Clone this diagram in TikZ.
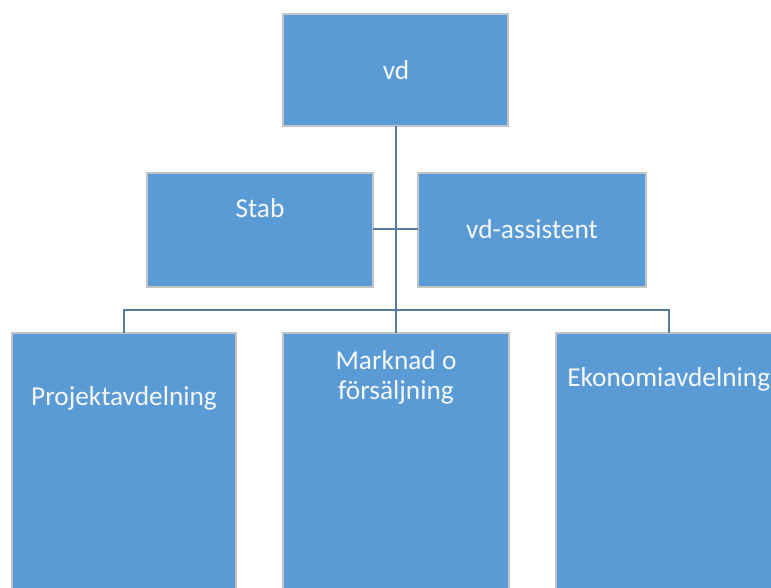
\documentclass[tikz,border=0pt]{standalone}
\usepackage{fontspec}
\setmainfont{Carlito}
\definecolor{boxfill}{HTML}{5B9BD5}
\definecolor{boxedge}{HTML}{C4C4C4}
\definecolor{linec}{HTML}{557BA0}
\definecolor{txt}{HTML}{F4F8FC}
\begin{document}
\begin{tikzpicture}[x=0.75pt,y=-0.75pt,
  orgbox/.style={draw=boxedge, line width=1.2pt, fill=boxfill},
  lbl/.style={text=txt, font=\fontsize{20.5}{22.5}\selectfont, inner sep=0pt, align=center},
  conn/.style={draw=linec, line width=1.6pt}]
\useasboundingbox (0,0) rectangle (771,587);
\clip (0,0) rectangle (771,587);
% boxes
\draw[orgbox] (283,14) rectangle (508,126);
\draw[orgbox] (147,173) rectangle (373,287);
\draw[orgbox] (418,173) rectangle (646,287);
\draw[orgbox] (12,333) rectangle (236,600);
\draw[orgbox] (283,333) rectangle (509,600);
\draw[orgbox] (556,333) rectangle (790,600);
% anchor coordinates
\coordinate (vdb) at (396,126);
\coordinate (stabr) at (373,229);
\coordinate (assl) at (418,229);
\coordinate (pt) at (124,333);
\coordinate (mt) at (396,333);
\coordinate (et) at (669,333);
% connectors
\draw[conn] (vdb) -- (mt);
\draw[conn] (stabr) -- (assl);
\draw[conn] (pt) -- (124,310) -- (669,310) -- (et);
% labels
\node[lbl] (vd) at (396,70) {vd};
\node[lbl] (stab) at (260,208) {Stab};
\node[lbl] (assist) at (532,229) {vd-assistent};
\node[lbl] (proj) at (124,398) {Projektavdelning};
\node[lbl] (mark) at (396,377) {Marknad o\\försäljning};
\node[lbl, anchor=west] (eko) at (567,379) {Ekonomiavdelning};
\end{tikzpicture}
\end{document}
